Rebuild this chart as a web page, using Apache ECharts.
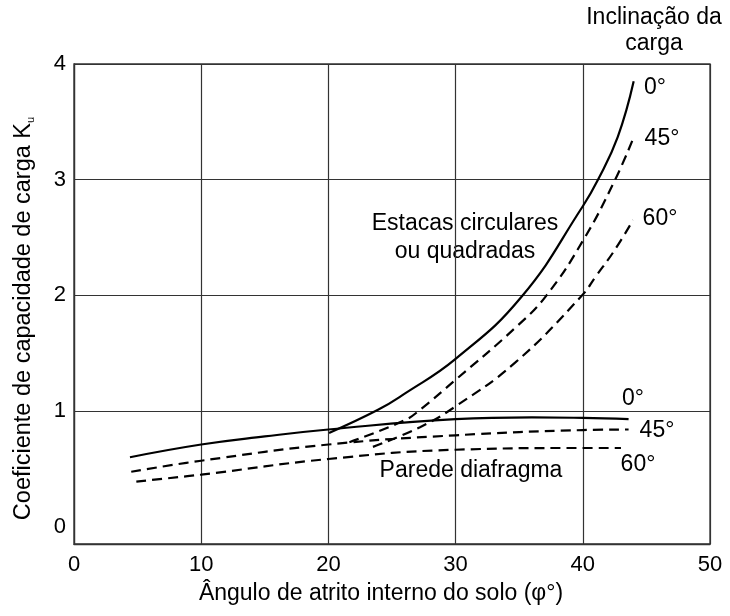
<!DOCTYPE html>
<html>
<head>
<meta charset="utf-8">
<script src="https://cdn.jsdelivr.net/npm/echarts@6/dist/echarts.min.js"></script>
<style>
    html, body { margin: 0; padding: 0; background: #fff; }
    #chart { width: 730px; height: 616px; }
</style>
</head>
<body>
<div id="chart"></div>
<script>
// eixos
var xTicks = [0, 10, 20, 30, 40, 50];
var yTicks = [0, 1, 2, 3, 4];
var yGrid = [1, 2, 3, 4];

// estacas circulares ou quadradas
var est0X = [20.05, 23.9, 26, 30, 35.2, 40, 41.15, 42.75, 44.0];
var est0Y = [0.81, 1.01, 1.15, 1.45, 1.99, 2.77, 2.99, 3.37, 3.85];
var est45X = [21.65, 26, 27.2, 30, 34.7, 37.15, 40.05, 42.5, 44.05];
var est45Y = [0.73, 0.92, 1.01, 1.27, 1.72, 2.0, 2.48, 2.99, 3.38];
var est60X = [23.5, 27.2, 30, 34.7, 39.95, 41.0, 42.5, 43.95];
var est60Y = [0.69, 0.86, 1.04, 1.42, 2.0, 2.16, 2.39, 2.65];

// parede diafragma
var par0X = [4.4, 10, 15, 20, 30, 36, 40, 43.6];
var par0Y = [0.60, 0.71, 0.78, 0.84, 0.93, 0.945, 0.94, 0.93];
var par45X = [4.5, 10, 20, 30, 40, 43.6];
var par45Y = [0.475, 0.57, 0.71, 0.79, 0.835, 0.84];
var par60X = [4.9, 10, 20, 30, 40, 43.0];
var par60Y = [0.39, 0.45, 0.585, 0.665, 0.68, 0.68];

var FONT = '"Liberation Sans", Arial, sans-serif';

function pairs(xs, ys) {
    var out = [];
    for (var i = 0; i < xs.length; i++) {
        out.push([xs[i], ys[i]]);
    }
    return out;
}

function curve(name, xs, ys, dashed) {
    return {
        name: name,
        type: 'line',
        data: pairs(xs, ys),
        smooth: 0.45,
        showSymbol: false,
        silent: true,
        lineStyle: {
            color: '#000',
            width: 2.2,
            type: dashed ? [10, 6] : 'solid'
        }
    };
}

function txt(text, x, y, lh) {
    return {
        type: 'text',
        x: x,
        y: y,
        style: {
            text: text,
            fill: '#000',
            font: '23px ' + FONT,
            lineHeight: lh || 26,
            textAlign: 'center',
            align: 'center',
            textVerticalAlign: 'middle',
            verticalAlign: 'middle'
        }
    };
}

var myChart = echarts.init(document.getElementById('chart'));
myChart.setOption({
    backgroundColor: '#fff',
    animation: false,
    textStyle: { fontFamily: FONT },
    grid: {
        left: 74,
        right: 20,
        top: 64,
        bottom: 72,
        show: true,
        borderColor: '#333',
        borderWidth: 1.3
    },
    xAxis: {
        type: 'value',
        min: xTicks[0],
        max: xTicks[xTicks.length - 1],
        interval: 10,
        name: 'Ângulo de atrito interno do solo (φ°)',
        nameLocation: 'middle',
        nameGap: 38,
        nameTextStyle: { fontSize: 23, color: '#000', fontFamily: FONT, padding: [0, 22, 0, 0] },
        axisLine: { onZero: false, lineStyle: { color: '#333', width: 1.3 } },
        axisTick: { show: false },
        axisLabel: { fontSize: 22, color: '#000', margin: 10, fontFamily: FONT },
        splitLine: { show: true, lineStyle: { color: '#333', width: 1.2 } }
    },
    yAxis: {
        type: 'value',
        min: -0.15,
        max: 4,
        name: 'Coeficiente de capacidade de carga K{sub|u}',
        nameLocation: 'middle',
        nameGap: 38,
        nameTextStyle: {
            fontSize: 23.5, color: '#000', fontFamily: FONT, padding: [0, 29, 0, 0],
            rich: { sub: { fontSize: 11, color: '#000', fontFamily: FONT, verticalAlign: 'bottom', padding: [8, 0, 0, 0] } }
        },
        axisLine: { onZero: false, lineStyle: { color: '#333', width: 1.3 } },
        axisTick: { show: false, customValues: yGrid },
        axisLabel: { fontSize: 22, color: '#000', margin: 8, fontFamily: FONT, customValues: yTicks },
        splitLine: { show: true, lineStyle: { color: '#333', width: 1.2 } }
    },
    series: [
        curve('Estacas 0°', est0X, est0Y, false),
        curve('Estacas 45°', est45X, est45Y, true),
        curve('Estacas 60°', est60X, est60Y, true),
        curve('Parede 0°', par0X, par0Y, false),
        curve('Parede 45°', par45X, par45Y, true),
        curve('Parede 60°', par60X, par60Y, true)
    ],
    graphic: [
        txt('Inclinação da\ncarga', 654, 31, 26),
        txt('0°', 655, 88),
        txt('45°', 662, 139),
        txt('60°', 660, 219),
        txt('Estacas circulares\nou quadradas', 465, 238, 28),
        txt('0°', 633, 399),
        txt('45°', 657, 431),
        txt('60°', 638, 465),
        txt('Parede diafragma', 471, 471)
    ]
});
</script>
</body>
</html>
